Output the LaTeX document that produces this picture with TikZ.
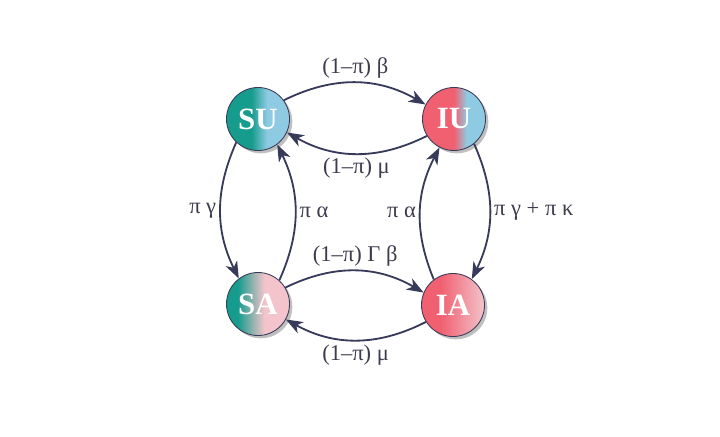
\documentclass[tikz,border=0pt]{standalone}
\usepackage{fontspec}
\setmainfont{Liberation Serif}
\usetikzlibrary{arrows.meta,shadows}
\definecolor{tealc}{RGB}{22,156,140}
\definecolor{bluec}{RGB}{142,202,226}
\definecolor{redc}{RGB}{240,96,112}
\definecolor{pinkc}{RGB}{243,196,203}
\definecolor{arrc}{RGB}{56,58,90}
\definecolor{labc}{RGB}{60,60,78}
\pgfdeclarehorizontalshading{shSU}{100bp}{color(0bp)=(tealc); color(45bp)=(tealc); color(57bp)=(bluec); color(100bp)=(bluec)}
\pgfdeclarehorizontalshading{shIU}{100bp}{color(0bp)=(redc); color(50bp)=(redc); color(60bp)=(bluec); color(100bp)=(bluec)}
\pgfdeclarehorizontalshading{shSA}{100bp}{color(0bp)=(tealc); color(34bp)=(tealc); color(55bp)=(pinkc); color(100bp)=(pinkc)}
\pgfdeclarehorizontalshading{shIA}{100bp}{color(0bp)=(redc); color(40bp)=(redc); color(75bp)=(pinkc); color(100bp)=(pinkc)}
\begin{document}
\begin{tikzpicture}[x=0.025cm,y=0.025cm,
  state/.style={circle,draw=arrc,line width=0.6pt,minimum size=1.575cm,inner sep=0pt,
    text=white,font=\fontsize{22}{22}\selectfont\bfseries,
    drop shadow={shadow xshift=2pt,shadow yshift=-2pt,opacity=0.25,fill=black}},
  arr/.style={-{Stealth[length=12pt,width=9pt,inset=3.5pt]},draw=arrc,line width=1.3pt},
  lab/.style={text=labc,font=\fontsize{16}{16}\selectfont,inner sep=2.5pt}]
\useasboundingbox (0,0) rectangle (720,436);
\node[state,shading=shSU](SU) at (258,317){SU};
\node[state,shading=shIU](IU) at (454,317){IU};
\node[state,shading=shSA](SA) at (258,132){SA};
\node[state,shading=shIA](IA) at (453,131){IA};
% top row
\draw[arr](SU.36) to[bend left=28] node[lab,above](b1){(1–π) β} (IU.153);
\draw[arr](IU.212) to[bend left=28] node[lab,below](m1){(1–π) μ} (SU.335);
% bottom row
\draw[arr](SA.31) to[bend left=28] node[lab,above](b2){(1–π) Γ β} (IA.157);
\draw[arr](IA.212) to[bend left=28] node[lab,below](m2){(1–π) μ} (SA.331);
% left column
\draw[arr](SU.227) to[bend right=25] node[lab,left](g1){π γ} (SA.127);
\draw[arr](SA.48) to[bend right=25] node[lab,right](a1){π α} (SU.307);
% right column
\draw[arr](IA.127) to[bend left=25] node[lab,left](a2){π α} (IU.243);
\draw[arr](IU.309) to[bend left=25] node[lab,right](g2){π γ + π κ} (IA.54);
\end{tikzpicture}
\end{document}
